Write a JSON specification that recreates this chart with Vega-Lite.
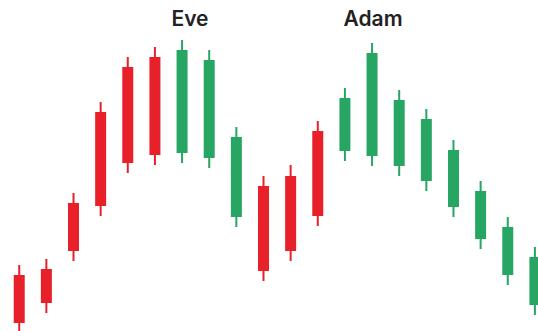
{
  "$schema": "https://vega.github.io/schema/vega-lite/v6.json",
  "width": 538,
  "height": 331,
  "autosize": {"type": "fit", "contains": "padding"},
  "padding": 0,
  "background": "white",
  "config": {"view": {"stroke": null}},
  "datasets": {
    "candles": [
      {"i": 1, "open": 8, "close": 56, "low": -2, "high": 66, "dir": "red"},
      {"i": 2, "open": 28, "close": 62, "low": 18, "high": 72, "dir": "red"},
      {"i": 3, "open": 80, "close": 128, "low": 70, "high": 138, "dir": "red"},
      {"i": 4, "open": 125, "close": 219, "low": 115, "high": 229, "dir": "red"},
      {"i": 5, "open": 168, "close": 264, "low": 158, "high": 274, "dir": "red"},
      {"i": 6, "open": 176, "close": 274, "low": 166, "high": 284, "dir": "red"},
      {"i": 7, "open": 281, "close": 178, "low": 168, "high": 291, "dir": "green"},
      {"i": 8, "open": 271, "close": 173, "low": 163, "high": 281, "dir": "green"},
      {"i": 9, "open": 194, "close": 114, "low": 104, "high": 204, "dir": "green"},
      {"i": 10, "open": 60, "close": 145, "low": 50, "high": 155, "dir": "red"},
      {"i": 11, "open": 80, "close": 155, "low": 70, "high": 166, "dir": "red"},
      {"i": 12, "open": 115, "close": 200, "low": 105, "high": 210, "dir": "red"},
      {"i": 13, "open": 233, "close": 180, "low": 170, "high": 243, "dir": "green"},
      {"i": 14, "open": 278, "close": 175, "low": 165, "high": 288, "dir": "green"},
      {"i": 15, "open": 231, "close": 165, "low": 155, "high": 241, "dir": "green"},
      {"i": 16, "open": 212, "close": 150, "low": 140, "high": 222, "dir": "green"},
      {"i": 17, "open": 181, "close": 124, "low": 114, "high": 191, "dir": "green"},
      {"i": 18, "open": 140, "close": 92, "low": 82, "high": 150, "dir": "green"},
      {"i": 19, "open": 104, "close": 56, "low": 46, "high": 114, "dir": "green"},
      {"i": 20, "open": 74, "close": 26, "low": 16, "high": 84, "dir": "green"}
    ],
    "labels": [
      {"pos": 7.292, "val": 305, "label": "Eve"},
      {"pos": 14.036, "val": 305, "label": "Adam"}
    ]
  },
  "layer": [
    {
      "data": {"name": "candles"},
      "mark": {"type": "rule", "strokeWidth": 2, "clip": true},
      "encoding": {
        "x": {"field": "i", "type": "quantitative", "scale": {"domain": [0.476, 19.93], "nice": false, "zero": false}, "axis": null},
        "y": {"field": "low", "type": "quantitative", "scale": {"domain": [0, 331], "nice": false, "zero": false}, "axis": null},
        "y2": {"field": "high"},
        "color": {"field": "dir", "type": "nominal", "scale": {"domain": ["red", "green"], "range": ["#E8202A", "#26A563"]}, "legend": null}
      }
    },
    {
      "data": {"name": "candles"},
      "mark": {"type": "bar", "size": 11, "clip": true},
      "encoding": {
        "x": {"field": "i", "type": "quantitative"},
        "y": {"field": "open", "type": "quantitative"},
        "y2": {"field": "close"},
        "color": {"field": "dir", "type": "nominal", "legend": null}
      }
    },
    {
      "data": {"name": "labels"},
      "mark": {"type": "text", "font": "Inter", "fontWeight": 600, "fontSize": 21, "color": "#222222", "align": "center", "baseline": "alphabetic"},
      "encoding": {
        "x": {"field": "pos", "type": "quantitative"},
        "y": {"field": "val", "type": "quantitative"},
        "text": {"field": "label"}
      }
    }
  ]
}
